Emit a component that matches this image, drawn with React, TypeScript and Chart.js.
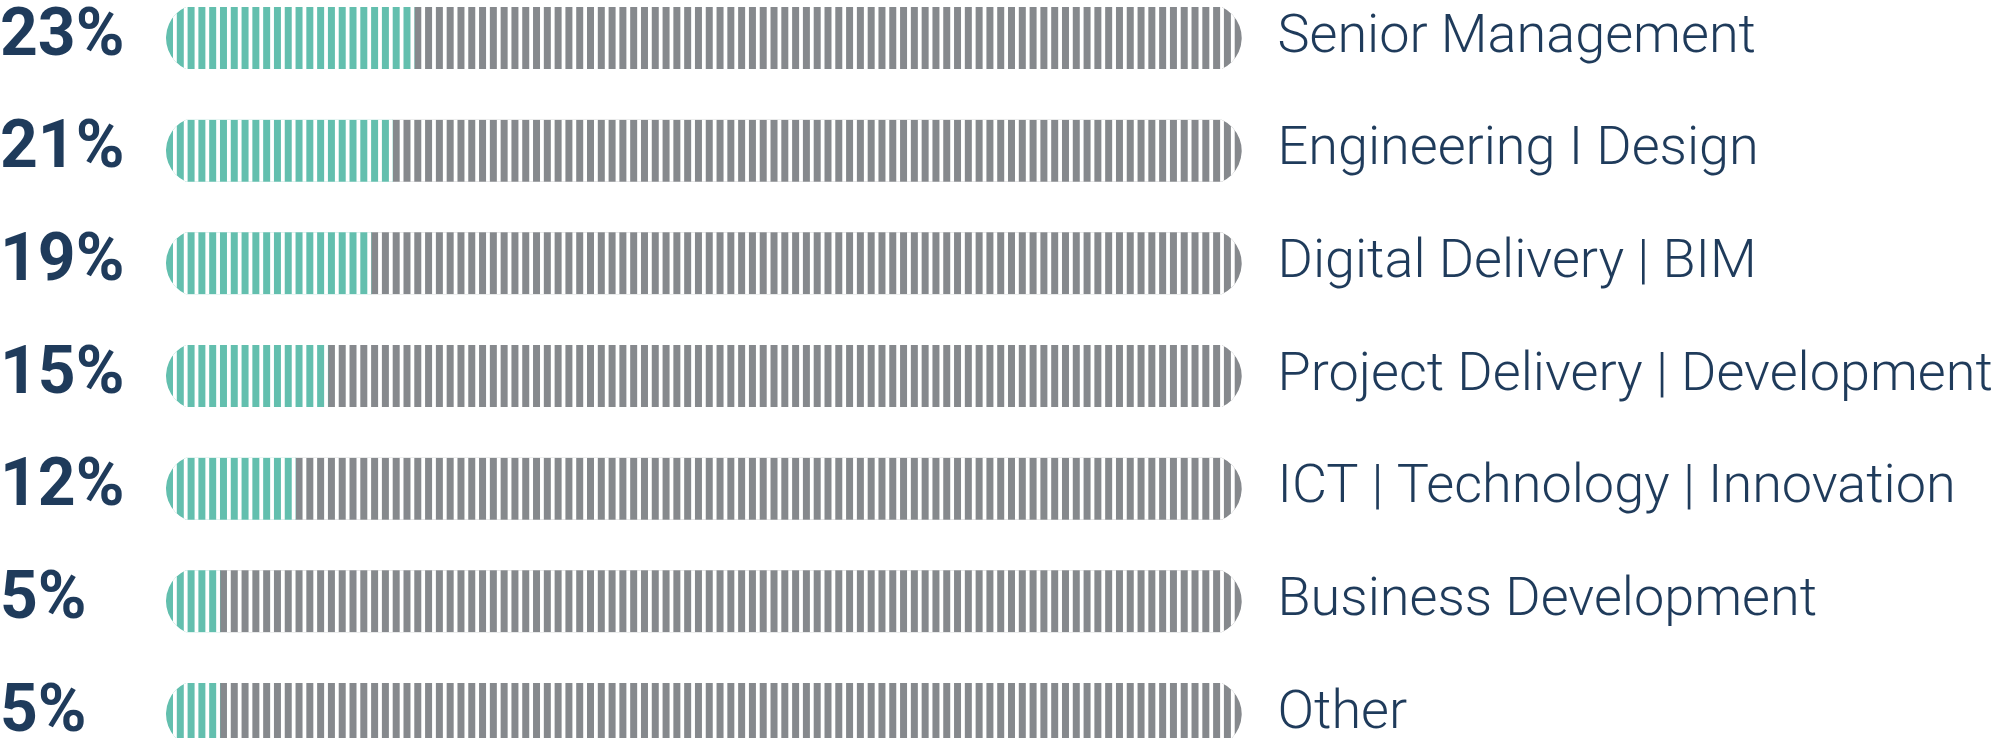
import { useEffect, useRef } from "react"
import { Chart, registerables } from "chart.js"

Chart.register(...registerables)

const categories = [
  "Senior Management",
  "Engineering I Design",
  "Digital Delivery | BIM",
  "Project Delivery | Development",
  "ICT | Technology | Innovation",
  "Business Development",
  "Other",
]
const shares = [23, 21, 19, 15, 12, 5, 5]
const remainder = shares.map((v) => 100 - v)

const TEAL = "#63bfae"
const GREY = "#86898d"
const NAVY = "#1f3b5b"
const GAP = 3.8
const CAP = 20

// clip every row to a capsule, then cut the white stripes (one per percent)
const stripePlugin = {
  id: "stripes",
  beforeDatasetsDraw(chart: any) {
    const { ctx, scales } = chart
    const x = scales.x
    const meta = chart.getDatasetMeta(0)
    const x0 = x.getPixelForValue(0)
    const x1 = x.getPixelForValue(100) - GAP
    ctx.save()
    ctx.beginPath()
    meta.data.forEach((el: any) => {
      const h = el.height
      const cy = el.y
      const half = h / 2
      const r = (half * half + CAP * CAP) / (2 * CAP)
      const t = Math.asin(half / r)
      ctx.moveTo(x0 + CAP, cy - half)
      ctx.lineTo(x1 - CAP, cy - half)
      ctx.arc(x1 - r, cy, r, -t, t, false)
      ctx.lineTo(x0 + CAP, cy + half)
      ctx.arc(x0 + r, cy, r, Math.PI - t, Math.PI + t, false)
      ctx.closePath()
    })
    ctx.clip()
  },
  afterDatasetsDraw(chart: any) {
    const { ctx, scales } = chart
    const x = scales.x
    const meta = chart.getDatasetMeta(0)
    ctx.fillStyle = "#ffffff"
    meta.data.forEach((el: any) => {
      const top = el.y - el.height / 2
      for (let i = 1; i < 100; i++) {
        const px = x.getPixelForValue(i)
        ctx.fillRect(px - GAP, top - 1, GAP, el.height + 2)
      }
    })
    ctx.restore()
  },
}

export default function App() {
  const canvasRef = useRef<HTMLCanvasElement>(null)
  const chartRef = useRef<Chart | null>(null)

  useEffect(() => {
    document.body.style.margin = "0"
    if (!canvasRef.current) return
    if (chartRef.current) chartRef.current.destroy()

    chartRef.current = new Chart(canvasRef.current, {
      type: "bar",
      data: {
        labels: categories,
        datasets: [
          {
            label: "Share",
            data: shares,
            backgroundColor: TEAL,
            borderWidth: 0,
            barThickness: 62,
            clip: false as any,
          },
          {
            label: "Rest",
            data: remainder,
            backgroundColor: GREY,
            borderWidth: 0,
            barThickness: 62,
            clip: false as any,
          },
        ],
      },
      options: {
        indexAxis: "y",
        responsive: true,
        maintainAspectRatio: false,
        animation: false,
        layout: { padding: { top: 38, bottom: 24, left: 0, right: 0 } },
        plugins: {
          legend: { display: false },
          tooltip: { enabled: false },
        },
        scales: {
          x: {
            stacked: true,
            min: 0,
            max: 100,
            display: false,
          },
          y: {
            stacked: true,
            position: "left",
            offset: false,
            grid: { display: false, drawTicks: false },
            border: { display: false },
            ticks: {
              color: NAVY,
              crossAlign: "far",
              padding: 0,
              font: { family: "Roboto", weight: "bold", size: 66, lineHeight: 1 },
              callback: (_v, i) => shares[i] + "%",
            },
            afterFit: (scale: any) => {
              scale.width = 166
              scale.paddingTop = 0
              scale.paddingBottom = 0
            },
          },
          y2: {
            type: "category",
            labels: categories,
            position: "right",
            offset: false,
            grid: { display: false, drawTicks: false },
            border: { display: false },
            ticks: {
              color: NAVY,
              padding: 32,
              font: { family: "Roboto", weight: "300", size: 54, lineHeight: 1 },
            },
            afterFit: (scale: any) => {
              scale.width = 754.5
              scale.paddingTop = 0
              scale.paddingBottom = 0
            },
          },
        },
      },
      plugins: [stripePlugin],
    })

    return () => {
      if (chartRef.current) chartRef.current.destroy()
      chartRef.current = null
    }
  }, [])

  return (
    <div style={{ width: 2000, height: 738, position: "relative", background: "#ffffff" }}>
      <canvas ref={canvasRef}></canvas>
    </div>
  )
}
